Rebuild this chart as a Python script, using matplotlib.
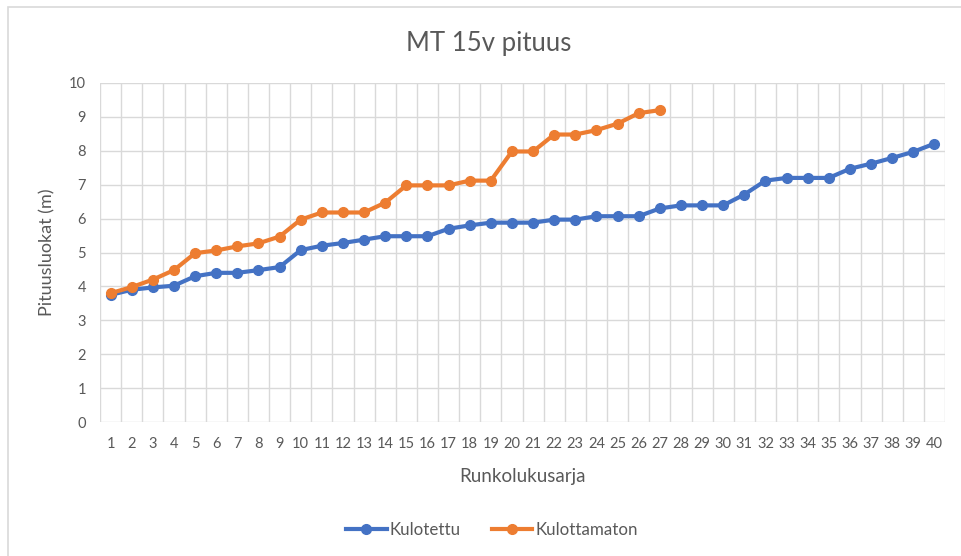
import numpy as np
import matplotlib.pyplot as plt
from matplotlib.patches import Rectangle

plt.rcParams['font.family'] = ['Lato', 'DejaVu Sans']

kulotettu = [3.75, 3.9, 3.97, 4.02, 4.3, 4.4, 4.4, 4.48, 4.57, 5.07,
             5.2, 5.28, 5.38, 5.48, 5.48, 5.48, 5.7, 5.8, 5.88, 5.88,
             5.88, 5.97, 5.97, 6.07, 6.07, 6.07, 6.3, 6.39, 6.39, 6.39,
             6.71, 7.12, 7.2, 7.2, 7.2, 7.47, 7.62, 7.79, 7.97, 8.21]
kulottamaton = [3.8, 3.98, 4.2, 4.48, 4.98, 5.06, 5.18, 5.27, 5.47, 5.97,
                6.18, 6.18, 6.18, 6.47, 6.98, 6.98, 6.98, 7.12, 7.12, 7.98,
                7.98, 8.48, 8.48, 8.61, 8.8, 9.11, 9.2]
categories = list(range(1, 41))

text_col = '#595959'
grid_col = '#d9d9d9'

fig = plt.figure(figsize=(9.61, 5.56), dpi=100)
fig.patches.append(Rectangle((8 / 961, -0.1), 1.1, 1.1 - 7 / 556,
                             transform=fig.transFigure, fill=False,
                             edgecolor='#d9d9d9', linewidth=1.2))
ax = fig.add_axes([100 / 961, 1 - 422 / 556, 845 / 961, 339 / 556])

ax.plot(categories, kulotettu, color='#4472c4', linewidth=3, marker='o',
        markersize=7, label='Kulotettu')
ax.plot(categories[:len(kulottamaton)], kulottamaton, color='#ed7d31',
        linewidth=3, marker='o', markersize=7, label='Kulottamaton')

ax.set_xlim(0.5, 40.5)
ax.set_ylim(0, 10)
ax.set_yticks(range(0, 11))
ax.set_xticks(categories)
ax.set_xticks(np.arange(0.5, 41, 1), minor=True)
ax.grid(True, which='major', axis='y', color=grid_col, linewidth=1)
ax.grid(True, which='minor', axis='x', color=grid_col, linewidth=1)
ax.tick_params(which='both', length=0, colors=text_col, labelsize=10.5)
ax.tick_params(axis='x', pad=11)
ax.tick_params(axis='y', pad=10)
for s in ax.spines.values():
    s.set_visible(False)
ax.set_axisbelow(True)

ax.set_xlabel('Runkolukusarja', color=text_col, fontsize=13.5, labelpad=12)
ax.set_ylabel('Pituusluokat (m)', color=text_col, fontsize=13, labelpad=10)
fig.text(489 / 961, 1 - 44 / 556, 'MT 15v pituus', ha='center', va='center',
         color=text_col, fontsize=18.5)

fig.legend(loc='center', bbox_to_anchor=(492 / 961, 1 - 530 / 556), ncol=2,
           frameon=False, fontsize=12.2, labelcolor=text_col, handlelength=2.4,
           columnspacing=1.8, handletextpad=0.2)

fig.savefig('out.png', dpi=100)
